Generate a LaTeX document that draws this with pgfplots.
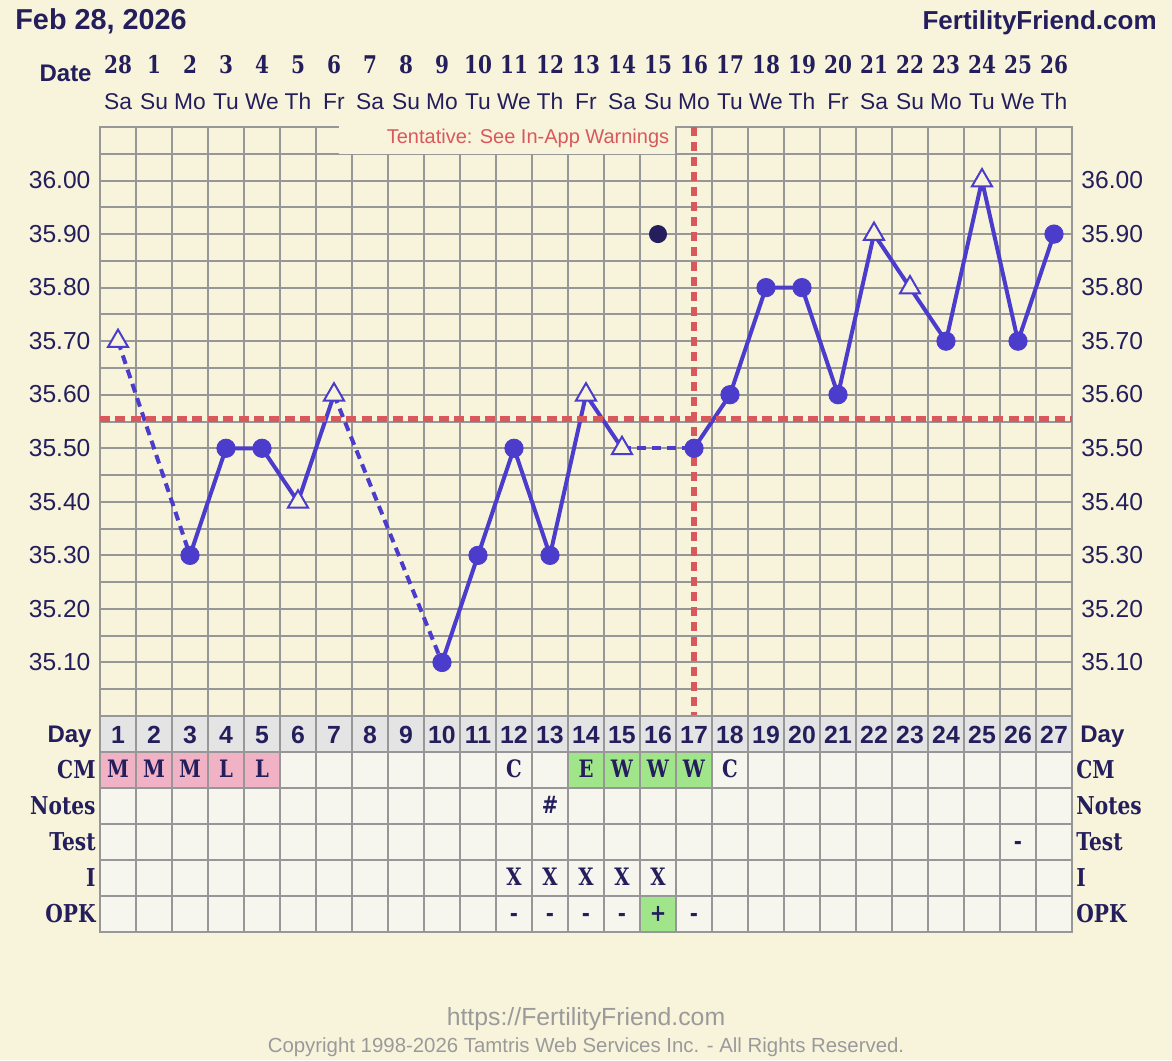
\documentclass[border=0pt]{standalone}
\usepackage{pgfplots}
\pgfplotsset{compat=1.18}
\usepackage{fontspec}
\setmainfont{Liberation Sans}
\newfontfamily\slab[FakeStretch=0.82]{DejaVu Serif}
\definecolor{bg}{HTML}{F8F4DC}
\definecolor{navy}{HTML}{241F5C}
\definecolor{gridc}{HTML}{979797}
\definecolor{linec}{HTML}{4B3CCB}
\definecolor{redc}{HTML}{D9585C}
\definecolor{pinkc}{HTML}{F2B2C5}
\definecolor{greenc}{HTML}{A0E58A}
\definecolor{cellc}{HTML}{F6F6EF}
\definecolor{dayc}{HTML}{E4E4E4}
\definecolor{footc}{HTML}{9A9A9A}
\tikzset{cellt/.style={anchor=base, inner sep=0, text=navy, font=\slab\bfseries\fontsize{12}{13}\selectfont}}
\begin{document}
\begin{tikzpicture}
\useasboundingbox (0,0) rectangle (586pt,-530pt);
\fill[bg] (0,0) rectangle (586pt,-530pt);

% ---------------- main temperature chart ----------------
\begin{axis}[
  at={(50pt,-358pt)}, anchor=south west,
  scale only axis, width=486pt, height=294.5pt,
  xmin=0.5, xmax=27.5, ymin=35.0, ymax=36.1,
  xtick={0.5,1.5,...,27.5}, xticklabels={},
  ytick={35.1,35.2,35.3,35.4,35.5,35.6,35.7,35.8,35.9,36.0},
  minor ytick={35.05,35.15,35.25,35.35,35.45,35.55,35.65,35.75,35.85,35.95,36.05},
  yticklabels={},
  grid=both,
  major grid style={gridc, line width=1pt},
  minor grid style={gridc, line width=1pt},
  tick style={draw=none},
  axis line style={gridc, line width=1.1pt},
  clip=false,
]
% solid segments
\addplot[linec, line width=2pt, mark=none] coordinates {(3,35.3)(4,35.5)(5,35.5)(6,35.4)(7,35.6)};
\addplot[linec, line width=2pt, mark=none] coordinates {(10,35.1)(11,35.3)(12,35.5)(13,35.3)(14,35.6)(15,35.5)};
\addplot[linec, line width=2pt, mark=none] coordinates {(17,35.5)(18,35.6)(19,35.8)(20,35.8)(21,35.6)(22,35.9)(23,35.8)(24,35.7)(25,36.0)(26,35.7)(27,35.9)};
% dashed segments
\addplot[linec, line width=2pt, dash pattern=on 4.5pt off 3pt, mark=none] coordinates {(1,35.7)(3,35.3)};
\addplot[linec, line width=2pt, dash pattern=on 4.5pt off 3pt, mark=none] coordinates {(7,35.6)(10,35.1)};
\addplot[linec, line width=2pt, dash pattern=on 4.5pt off 3pt, mark=none] coordinates {(15,35.5)(17,35.5)};
% circle markers
\addplot[only marks, mark=*, mark size=4.6pt, mark options={fill=linec, draw=linec}] coordinates {
 (3,35.3)(4,35.5)(5,35.5)(10,35.1)(11,35.3)(12,35.5)(13,35.3)(17,35.5)(18,35.6)(19,35.8)(20,35.8)(21,35.6)(24,35.7)(26,35.7)(27,35.9)};
% triangle markers
\addplot[only marks, mark=triangle*, mark size=5.8pt, mark options={fill=bg, draw=linec, line width=1pt}] coordinates {
 (1,35.7)(6,35.4)(7,35.6)(14,35.6)(15,35.5)(22,35.9)(23,35.8)(25,36.0)};
% discarded temperature
\addplot[only marks, mark=*, mark size=4.3pt, mark options={fill=navy, draw=navy}] coordinates {(16,35.9)};
% coverlines
\draw[redc, line width=2.7pt, dash pattern=on 5pt off 2.7pt] (axis cs:0.5,35.555) -- (axis cs:27.5,35.555);
\draw[redc, line width=2.7pt, dash pattern=on 4.5pt off 3pt] (axis cs:17,36.1) -- (axis cs:17,35.0);
% y labels both sides
\pgfplotsinvokeforeach{35.10,35.20,35.30,35.40,35.50,35.60,35.70,35.80,35.90,36.00}{
  \node[anchor=base east, inner sep=0, text=navy, font=\fontsize{12.3}{14}\selectfont, xshift=-4.6pt, yshift=-4.1pt] at (axis cs:0.5,#1) {#1};
  \node[anchor=base west, inner sep=0, text=navy, font=\fontsize{12.3}{14}\selectfont, xshift=4.5pt, yshift=-4.1pt] at (axis cs:27.5,#1) {#1};
}
\end{axis}

% ---------------- table ----------------
\begin{axis}[
  at={(50pt,-466pt)}, anchor=south west,
  scale only axis, width=486pt, height=108pt,
  xmin=0.5, xmax=27.5, ymin=0, ymax=6, y dir=reverse,
  xtick={0.5,1.5,...,27.5}, ytick={0,1,2,3,4,5,6},
  xticklabels={}, yticklabels={},
  grid=major, major grid style={gridc, line width=1pt},
  tick style={draw=none},
  axis line style={gridc, line width=1.1pt},
  axis on top, clip=false,
]
\fill[cellc] (axis cs:0.5,1) rectangle (axis cs:27.5,6);
\fill[dayc] (axis cs:0.5,0) rectangle (axis cs:27.5,1);
\fill[pinkc] (axis cs:0.5,1) rectangle (axis cs:5.5,2);
\fill[greenc] (axis cs:13.5,1) rectangle (axis cs:17.5,2);
\fill[greenc] (axis cs:15.5,5) rectangle (axis cs:16.5,6);
\pgfplotsinvokeforeach{1,...,27}{
  \node[anchor=base, inner sep=0, text=navy, font=\bfseries\fontsize{12.4}{14}\selectfont] at (axis cs:#1,0.75) {#1};
}
% CM
\node[cellt] at (axis cs:1,1.72) {M};
\node[cellt] at (axis cs:2,1.72) {M};
\node[cellt] at (axis cs:3,1.72) {M};
\node[cellt] at (axis cs:4,1.72) {L};
\node[cellt] at (axis cs:5,1.72) {L};
\node[cellt] at (axis cs:12,1.72) {C};
\node[cellt] at (axis cs:14,1.72) {E};
\node[cellt] at (axis cs:15,1.72) {W};
\node[cellt] at (axis cs:16,1.72) {W};
\node[cellt] at (axis cs:17,1.72) {W};
\node[cellt] at (axis cs:18,1.72) {C};
% Notes
\node[cellt] at (axis cs:13,2.72) {\#};
% Test
\node[cellt] at (axis cs:26,3.72) {-};
% I
\node[cellt] at (axis cs:12,4.72) {X};
\node[cellt] at (axis cs:13,4.72) {X};
\node[cellt] at (axis cs:14,4.72) {X};
\node[cellt] at (axis cs:15,4.72) {X};
\node[cellt] at (axis cs:16,4.72) {X};
% OPK
\node[cellt] at (axis cs:12,5.72) {-};
\node[cellt] at (axis cs:13,5.72) {-};
\node[cellt] at (axis cs:14,5.72) {-};
\node[cellt] at (axis cs:15,5.72) {-};
\node[cellt] at (axis cs:16,5.72) {+};
\node[cellt] at (axis cs:17,5.72) {-};
\end{axis}

% ---------------- text decorations (pixel grid, y down) ----------------
\begin{scope}[x=0.5pt,y=-0.5pt]
% tentative box
\fill[bg] (339,116) rectangle (674.5,153.5);
\node[anchor=base, inner sep=0, text=redc, font=\fontsize{10}{12}\selectfont] at (528,143) {Tentative: See In-App Warnings};
% header
\node[anchor=base west, inner sep=0, text=navy, font=\bfseries\fontsize{14.4}{16}\selectfont] at (15,29) {Feb 28, 2026};
\node[anchor=base east, inner sep=0, text=navy, font=\bfseries\fontsize{13}{16}\selectfont] at (1157,29) {FertilityFriend.com};
\node[anchor=base east, inner sep=0, text=navy, font=\bfseries\fontsize{12}{13}\selectfont] at (92,81) {Date};
\foreach \d [count=\i from 0] in {28,1,2,3,4,5,6,7,8,9,10,11,12,13,14,15,16,17,18,19,20,21,22,23,24,25,26}
  \node[anchor=base, inner sep=0, text=navy, font=\slab\bfseries\fontsize{12.2}{13}\selectfont] at (118+36*\i,73) {\d};
\foreach \w [count=\i from 0] in {Sa,Su,Mo,Tu,We,Th,Fr,Sa,Su,Mo,Tu,We,Th,Fr,Sa,Su,Mo,Tu,We,Th,Fr,Sa,Su,Mo,Tu,We,Th}
  \node[anchor=base, inner sep=0, text=navy, font=\fontsize{11.4}{12}\selectfont] at (118+36*\i,109) {\w};
% row labels
\node[anchor=base east, inner sep=0, text=navy, font=\bfseries\fontsize{12}{13}\selectfont] at (92,742) {Day};
\node[anchor=base west, inner sep=0, text=navy, font=\bfseries\fontsize{12}{13}\selectfont] at (1080,742) {Day};
\foreach \lab/\yy in {CM/778,Notes/814,Test/850,I/886,OPK/922}{
  \node[anchor=base east, inner sep=0, text=navy, font=\slab\bfseries\fontsize{12.3}{13}\selectfont] at (96,\yy) {\lab};
  \node[anchor=base west, inner sep=0, text=navy, font=\slab\bfseries\fontsize{12.3}{13}\selectfont] at (1076,\yy) {\lab};
}
% footer
\node[anchor=base, inner sep=0, text=footc, font=\fontsize{12.4}{14}\selectfont] at (586,1025) {https://FertilityFriend.com};
\node[anchor=base, inner sep=0, text=footc, font=\fontsize{10.2}{12}\selectfont] at (586,1052) {Copyright 1998-2026 Tamtris Web Services Inc. - All Rights Reserved.};
\end{scope}
\end{tikzpicture}
\end{document}
